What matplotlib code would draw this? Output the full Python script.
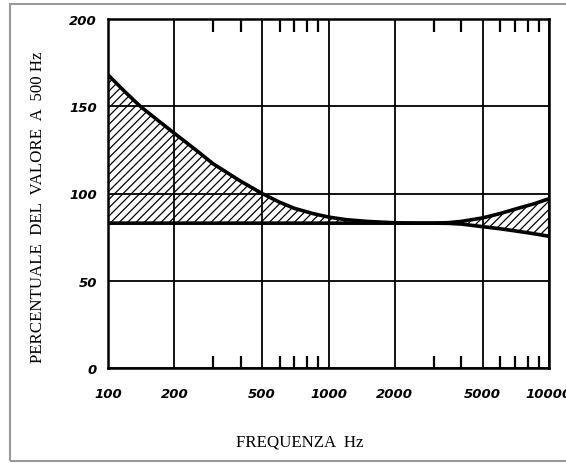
import matplotlib
matplotlib.use("Agg")
import matplotlib.pyplot as plt
from matplotlib.patches import Rectangle
from matplotlib.ticker import FixedLocator, NullFormatter

freqs = [100, 120, 140, 170, 200, 250, 300, 400, 500, 600, 700, 850, 1000, 1200,
         1500, 2000, 2500, 3000, 3500, 4000, 5000, 6000, 7000, 8500, 10000]
upper = [168, 158, 150, 141.5, 134.5, 125, 117, 107, 100, 95, 91.5, 88.5, 86.5, 85,
         84, 83.2, 83, 83, 83.3, 84, 86, 88.5, 91, 94, 97]
lower = [83, 83, 83, 83, 83, 83, 83, 83, 83, 83, 83, 83, 83, 83,
         83, 83, 83, 83, 82.9, 82.5, 81, 79.8, 78.6, 77, 75.5]

x_major = [100, 200, 500, 1000, 2000, 5000, 10000]
x_labels = ["100", "200", "500", "1000", "2000", "5000", "10000"]
x_minor = [300, 400, 600, 700, 800, 900, 3000, 4000, 6000, 7000, 8000, 9000]
y_major = [0, 50, 100, 150, 200]
y_labels = ["0", "50", "100", "150", "200"]

plt.rcParams['hatch.linewidth'] = 0.9
fig = plt.figure(figsize=(5.66, 4.64), dpi=100)
ax = fig.add_axes([108/566, 1-369/464, 441/566, 349/464])

ax.set_xscale("log")
ax.set_xlim(100, 10000)
ax.set_ylim(0, 200)

ax.fill_between(freqs, lower, upper, facecolor="none", edgecolor="black",
                hatch="////", linewidth=0, zorder=1)
ax.plot(freqs, upper, color="black", lw=2.6, zorder=3, solid_capstyle="butt")
ax.plot(freqs, lower, color="black", lw=2.6, zorder=3, solid_capstyle="butt")

ax.xaxis.set_major_locator(FixedLocator(x_major))
ax.set_xticklabels(x_labels)
ax.xaxis.set_minor_locator(FixedLocator(x_minor))
ax.xaxis.set_minor_formatter(NullFormatter())
ax.set_yticks(y_major)
ax.set_yticklabels(y_labels)

ax.grid(True, which="major", color="black", lw=1.3, zorder=2)
ax.set_axisbelow(False)
ax.tick_params(which="major", length=0, pad=14)
ax.tick_params(axis="y", which="major", length=0, pad=8)
ax.tick_params(axis="x", which="minor", direction="in", length=9, width=1.6,
               top=True, bottom=True, color="black")
for lab in ax.get_xticklabels() + ax.get_yticklabels():
    lab.set_fontfamily("DejaVu Sans")
    lab.set_fontweight("bold")
    lab.set_fontstyle("oblique")
    lab.set_fontsize(9.5)

for s in ax.spines.values():
    s.set_linewidth(1.8)
    s.set_color("black")

fig.text(38/566, 1-207/464, "PERCENTUALE  DEL  VALORE  A  500 Hz", rotation=90,
         ha="center", va="center", family="Liberation Serif", fontsize=12.2)
fig.text(300/566, 1-443/464, "FREQUENZA  Hz", ha="center", va="center",
         family="Liberation Serif", fontsize=12.2)

fig.patches.append(Rectangle((10/566, 1-462/464), 570/566, 457/464,
                             transform=fig.transFigure, fill=False,
                             edgecolor="#999999", lw=1.5))

fig.savefig("out.png", dpi=100)
